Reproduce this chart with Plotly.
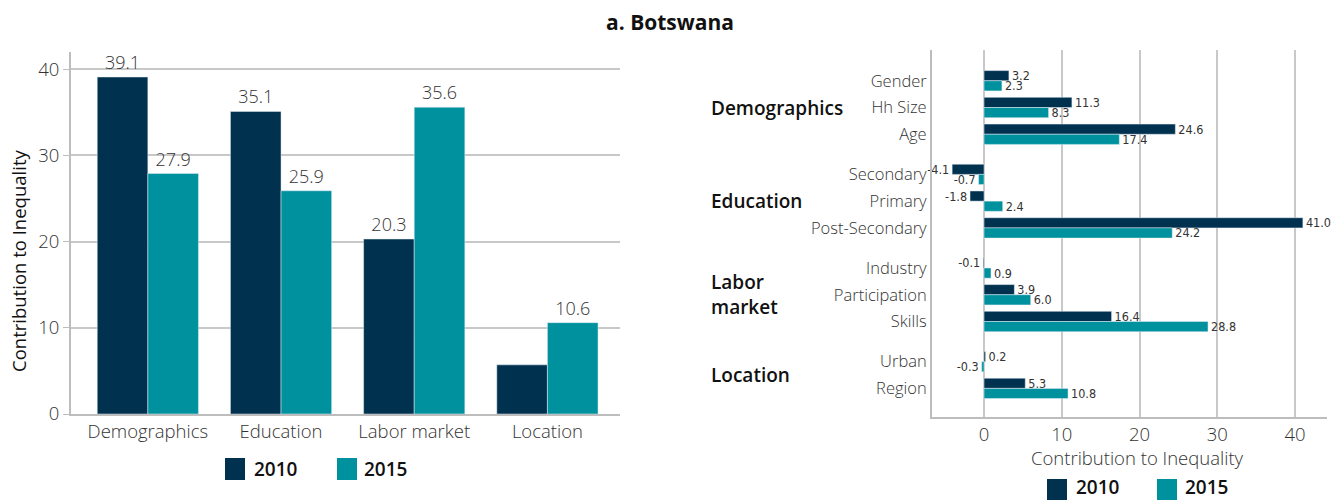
import plotly.graph_objects as go

W, H = 1337, 500
NAVY = "#00314f"
TEAL = "#00919e"
GRID = "#c8c8c8"
TXT = "#333333"
FONT = "Open Sans, Noto Sans, sans-serif"
NARROW = "Liberation Sans Narrow, DejaVu Sans Condensed, sans-serif"

years = ["2010", "2015"]

# ---- left panel data
left_categories = ["Demographics", "Education", "Labor market", "Location"]
left_2010 = [39.1, 35.1, 20.3, 5.7]
left_2015 = [27.9, 25.9, 35.6, 10.6]
left_2010_labels = ["39.1", "35.1", "20.3", ""]
left_2015_labels = ["27.9", "25.9", "35.6", "10.6"]
left_yticks = [0, 10, 20, 30, 40]

# ---- right panel data
group_names = ["Demographics", "Education", "Labor<br>market", "Location"]
group_items = [["Gender", "Hh Size", "Age"],
               ["Secondary", "Primary", "Post-Secondary"],
               ["Industry", "Participation", "Skills"],
               ["Urban", "Region"]]
right_2010 = [3.2, 11.3, 24.6, -4.1, -1.8, 41.0, -0.1, 3.9, 16.4, 0.2, 5.3]
right_2015 = [2.3, 8.3, 17.4, -0.7, 2.4, 24.2, 0.9, 6.0, 28.8, -0.3, 10.8]
right_xticks = [0, 10, 20, 30, 40]

# layout positions of rows (gap of half a row between groups)
items, positions, group_centers = [], [], []
p = 0.0
for g in group_items:
    start = p
    for it in g:
        items.append(it)
        positions.append(p)
        p += 1
    group_centers.append((start + p - 1) / 2)
    p += 0.5

def px(x):
    return x / W

def py(y):
    return 1 - y / H

fig = go.Figure()

# left bars
fig.add_trace(go.Bar(x=left_categories, y=left_2010, name="2010", marker_color=NAVY,
                     text=left_2010_labels, textposition="outside", cliponaxis=False,
                     constraintext="none",
                     textfont=dict(size=18, color=TXT, family=FONT, weight=300),
                     xaxis="x", yaxis="y", showlegend=False))
fig.add_trace(go.Bar(x=left_categories, y=left_2015, name="2015", marker_color=TEAL,
                     text=left_2015_labels, textposition="outside", cliponaxis=False,
                     constraintext="none",
                     textfont=dict(size=18, color=TXT, family=FONT, weight=300),
                     xaxis="x", yaxis="y", showlegend=False))

# right bars
fig.add_trace(go.Bar(y=positions, x=right_2010, orientation="h", name="2010", marker_color=NAVY,
                     text=[f"{v:.1f}" for v in right_2010], textposition="outside",
                     cliponaxis=False, constraintext="none",
                     textfont=dict(size=12.5, color=TXT, family=NARROW),
                     xaxis="x2", yaxis="y2", showlegend=False))
fig.add_trace(go.Bar(y=positions, x=right_2015, orientation="h", name="2015", marker_color=TEAL,
                     text=[f"{v:.1f}" for v in right_2015], textposition="outside",
                     cliponaxis=False, constraintext="none",
                     textfont=dict(size=12.5, color=TXT, family=NARROW),
                     xaxis="x2", yaxis="y2", showlegend=False))

shapes = []
annotations = []

def ann(x, y, text, size, color="#111", weight=400, xanchor="center", yref="paper", angle=0):
    annotations.append(dict(x=px(x), y=(py(y) if yref == "paper" else y), xref="paper", yref=yref,
                            text=text, showarrow=False, xanchor=xanchor, yanchor="middle",
                            align="left", textangle=angle,
                            font=dict(size=size, color=color, family=FONT, weight=weight)))

# title
ann(670, 22, "a. Botswana", 21, weight=700)
# left y title
ann(18, 261, "Contribution to Inequality", 18.5, angle=-90)
# right x title
ann(1137, 457, "Contribution to Inequality", 18.5, color=TXT, weight=300)

# group labels on right
for name, c in zip(group_names, group_centers):
    ann(709, c, name, 19, weight=600, xanchor="left", yref="y2")

# legends (drawn)
def legend(x0s, ytop, ybot, textx, ytext):
    for yr, x0, tx, col in zip(years, x0s, textx, [NAVY, TEAL]):
        shapes.append(dict(type="rect", xref="paper", yref="paper", x0=px(x0), x1=px(x0 + 20),
                           y0=py(ybot), y1=py(ytop), fillcolor=col, line=dict(width=0)))
        ann(tx, ytext, yr, 19, weight=600, xanchor="left")

legend([225, 337], 458, 480, [252, 362], 469)
legend([1047, 1157], 479, 500, [1074, 1183], 487)

tickf = dict(size=18.5, color=TXT, family=FONT, weight=300)

fig.update_layout(
    width=W, height=H, autosize=False,
    margin=dict(l=0, r=0, t=0, b=0, pad=0),
    paper_bgcolor="white", plot_bgcolor="white",
    barmode="group", bargap=0.24, bargroupgap=0,
    font=dict(family=FONT, color=TXT),
    xaxis=dict(domain=[px(71), px(620)], range=[-0.577, 3.545], showgrid=False,
               showline=True, linecolor="#bdbdbd", linewidth=2, ticks="",
               tickfont=tickf, anchor="y", automargin=False),
    yaxis=dict(domain=[py(414), py(52)], range=[0, 42.0], tickvals=left_yticks,
               showgrid=True, gridcolor=GRID, gridwidth=1.5, zeroline=False,
               showline=True, linecolor="#bdbdbd", linewidth=2,
               ticks="outside", ticklen=6, tickcolor="#bdbdbd",
               tickfont=tickf, anchor="x", automargin=False),
    xaxis2=dict(domain=[px(932), px(1327)], range=[-6.69, 44.1], tickvals=right_xticks,
                showgrid=True, gridcolor=GRID, gridwidth=1.5, zeroline=True, zerolinecolor=GRID,
                zerolinewidth=1.5, showline=True, linecolor="#bdbdbd", linewidth=2,
                tickfont=tickf, anchor="y2", automargin=False),
    yaxis2=dict(domain=[py(417), py(50)], range=[12.57, -1.15], tickvals=positions,
                ticktext=items, showgrid=False, zeroline=False, showline=True,
                linecolor="#bdbdbd", linewidth=2, ticks="",
                tickfont=dict(size=16.5, color=TXT, family=FONT, weight=300), anchor="x2",
                automargin=False),
    shapes=shapes, annotations=annotations,
)

fig.write_html("out.html", config={"displayModeBar": False},
               post_script="document.body.style.margin='0';document.body.style.overflow='hidden';")
